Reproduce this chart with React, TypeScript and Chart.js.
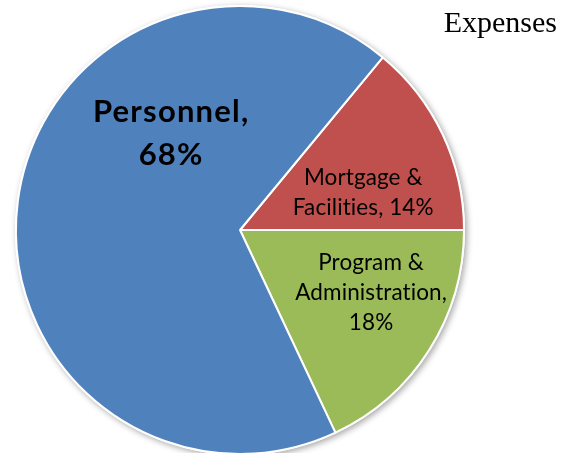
import React, { useEffect, useRef } from "react";
import { Chart, registerables } from "chart.js";

Chart.register(...registerables);

const categories = ["Mortgage & Facilities", "Program & Administration", "Personnel"];
const values = [14, 18, 68];
const sliceColors = ["#C0504D", "#9BBB59", "#4F81BD"];
const labelLines = [
  ["Mortgage &", "Facilities, 14%"],
  ["Program &", "Administration,", "18%"],
  ["Personnel,", "68%"],
];
const titleText = "Expenses";

// label centre positions, in units of pie radius relative to the centre
const labelAnchors = [
  { x: 0.55, y: -0.165, size: 22.5, bold: false, lh: 30, ls: 0.1 },
  { x: 0.585, y: 0.28, size: 22.5, bold: false, lh: 30, ls: 0.1 },
  { x: -0.31, y: -0.43, size: 31, bold: true, lh: 43, ls: 1.2 },
];

const shadowPlugin = {
  id: "pieShadow",
  beforeDatasetsDraw(chart: any) {
    const arc = chart.getDatasetMeta(0).data[0];
    if (!arc) return;
    const ctx = chart.ctx;
    ctx.save();
    ctx.shadowColor = "rgba(0,0,0,0.35)";
    ctx.shadowBlur = 6;
    ctx.shadowOffsetX = 2;
    ctx.shadowOffsetY = 2;
    ctx.fillStyle = "#ffffff";
    ctx.beginPath();
    ctx.arc(arc.x, arc.y, arc.outerRadius + 1, 0, Math.PI * 2);
    ctx.fill();
    ctx.restore();
  },
};

const labelPlugin = {
  id: "sliceLabels",
  afterDatasetsDraw(chart: any) {
    const meta = chart.getDatasetMeta(0);
    const ctx = chart.ctx;
    ctx.save();
    ctx.fillStyle = "#000000";
    ctx.textAlign = "center";
    ctx.textBaseline = "middle";
    meta.data.forEach((arc: any, i: number) => {
      const a = labelAnchors[i];
      const lines = labelLines[i];
      const cx = arc.x + a.x * arc.outerRadius;
      const cy = arc.y + a.y * arc.outerRadius;
      try { (ctx as any).letterSpacing = `${a.ls}px`; } catch (e) {}
      ctx.font = `${a.bold ? "bold " : ""}${a.size}px Lato`;
      const start = cy - ((lines.length - 1) * a.lh) / 2;
      lines.forEach((t, j) => ctx.fillText(t, cx + a.ls / 2, start + j * a.lh));
    });
    // title, top right
    try { (ctx as any).letterSpacing = "0px"; } catch (e) {}
    ctx.font = "30px 'Liberation Serif'";
    ctx.textAlign = "right";
    ctx.textBaseline = "alphabetic";
    ctx.fillText(titleText, chart.width - 18, 32);
    ctx.restore();
  },
};

export default function App() {
  const ref = useRef<HTMLCanvasElement | null>(null);
  useEffect(() => {
    if (!ref.current) return;
    const chart = new Chart(ref.current, {
      type: "pie",
      data: {
        labels: categories,
        datasets: [
          {
            data: values,
            backgroundColor: sliceColors,
            borderColor: "#ffffff",
            borderWidth: 2,
            hoverOffset: 0,
          },
        ],
      },
      options: {
        responsive: false,
        animation: false,
        rotation: 39.6,
        layout: { padding: { left: 15, right: 110, top: 5, bottom: 5 } },
        plugins: {
          legend: { display: false },
          tooltip: { enabled: false },
          title: { display: false },
        },
      },
      plugins: [shadowPlugin, labelPlugin],
    });
    return () => chart.destroy();
  }, []);
  return (
    <div style={{ position: "absolute", left: 0, top: 0, width: 575, height: 453, overflow: "hidden", background: "#fff" }}>
      <canvas ref={ref} width={575} height={460} style={{ display: "block" }} />
    </div>
  );
}
